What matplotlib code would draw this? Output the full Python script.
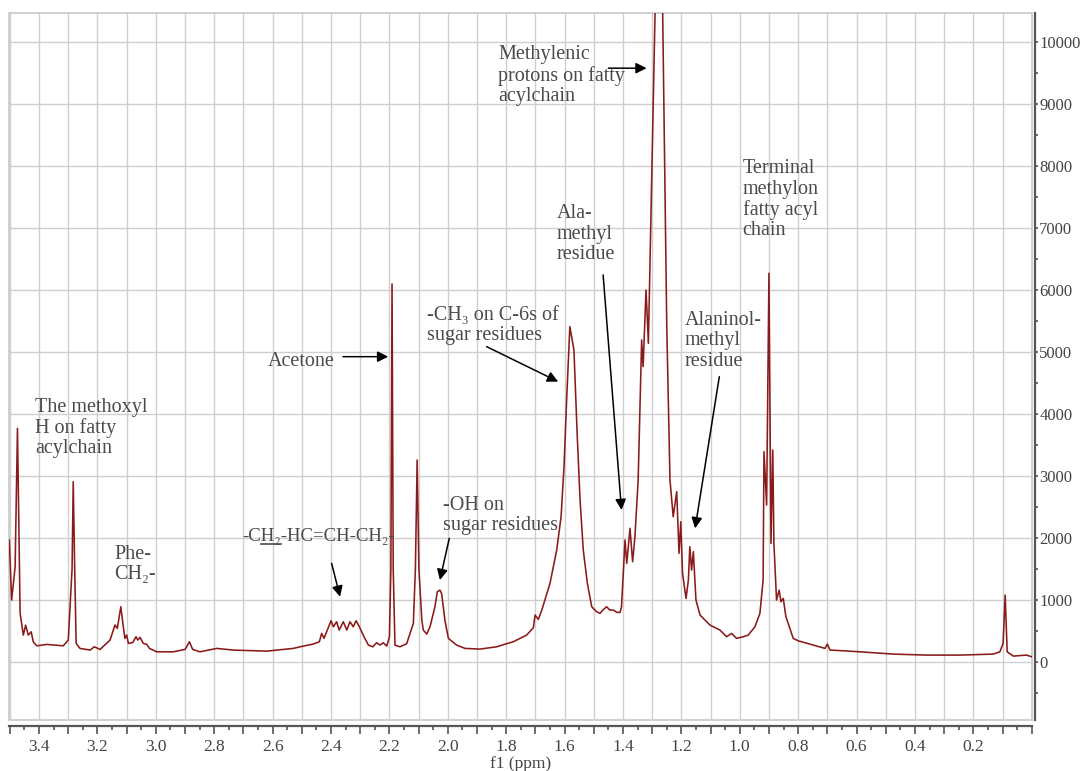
import matplotlib
matplotlib.use("Agg")
import matplotlib.pyplot as plt
from matplotlib.ticker import MultipleLocator, FuncFormatter

# 1H NMR spectrum: chemical shift (ppm) and intensity
shift = [3.502, 3.494, 3.482, 3.474, 3.465, 3.454, 3.446, 3.437, 3.427, 3.420,
         3.408, 3.374, 3.317, 3.300, 3.287, 3.283, 3.278, 3.273, 3.260, 3.225,
         3.211, 3.191, 3.157, 3.140, 3.132, 3.120, 3.113, 3.106, 3.100, 3.094,
         3.079, 3.068, 3.062, 3.054, 3.043, 3.031, 3.022, 2.997, 2.940, 2.900,
         2.885, 2.874, 2.849, 2.791, 2.735, 2.620, 2.529, 2.506, 2.461, 2.440,
         2.432, 2.424, 2.400, 2.392, 2.381, 2.372, 2.358, 2.346, 2.335, 2.324,
         2.314, 2.303, 2.287, 2.272, 2.257, 2.244, 2.232, 2.221, 2.209, 2.200,
         2.195, 2.191, 2.187, 2.181, 2.164, 2.141, 2.118, 2.111, 2.105, 2.099,
         2.089, 2.084, 2.072, 2.061, 2.044, 2.036, 2.027, 2.021, 2.010, 1.998,
         1.970, 1.941, 1.890, 1.833, 1.776, 1.730, 1.707, 1.701, 1.690, 1.678,
         1.650, 1.627, 1.612, 1.602, 1.593, 1.582, 1.568, 1.557, 1.547, 1.536,
         1.522, 1.507, 1.490, 1.479, 1.469, 1.456, 1.445, 1.433, 1.421, 1.410,
         1.405, 1.393, 1.387, 1.376, 1.367, 1.359, 1.348, 1.336, 1.331, 1.321,
         1.313, 1.290, 1.277, 1.264, 1.250, 1.239, 1.228, 1.216, 1.208, 1.202,
         1.196, 1.184, 1.176, 1.171, 1.165, 1.159, 1.150, 1.136, 1.102, 1.068,
         1.045, 1.028, 1.011, 0.988, 0.971, 0.948, 0.931, 0.920, 0.917, 0.908,
         0.900, 0.893, 0.887, 0.883, 0.874, 0.865, 0.859, 0.851, 0.842, 0.834,
         0.817, 0.800, 0.760, 0.708, 0.700, 0.691, 0.646, 0.588, 0.474, 0.360,
         0.246, 0.132, 0.109, 0.098, 0.091, 0.084, 0.063, 0.018, 0.000]
intensity = [1965, 996, 1534, 3768, 786, 431, 590, 431, 484, 323,
             258, 280, 258, 350, 1500, 2906, 1500, 297, 216, 189,
             242, 200, 350, 592, 539, 888, 620, 378, 431, 297,
             312, 404, 350, 394, 297, 280, 216, 161, 161, 200,
             323, 200, 161, 216, 189, 172, 216, 242, 286, 323,
             458, 378, 662, 565, 646, 512, 646, 512, 646, 565,
             662, 565, 404, 270, 242, 307, 270, 307, 253, 404,
             1500, 6098, 1500, 270, 242, 291, 620, 1500, 3256, 1500,
             673, 512, 447, 565, 888, 1130, 1157, 1098, 673, 378,
             270, 216, 205, 242, 323, 431, 550, 754, 684, 835,
             1266, 1803, 2341, 3148, 4225, 5409, 5032, 3687, 2610, 1803,
             1266, 888, 807, 781, 835, 888, 835, 835, 797, 797,
             888, 1965, 1588, 2154, 1615, 2018, 2934, 5194, 4763, 6000,
             5140, 10470, 14000, 10470, 5409, 2934, 2341, 2745, 1750, 2260,
             1427, 1023, 1319, 1857, 1480, 1776, 996, 754, 592, 512,
             404, 458, 378, 404, 431, 565, 781, 1319, 3391, 2530,
             6271, 1911, 3418, 1911, 996, 1157, 969, 1023, 727, 620,
             378, 339, 286, 216, 286, 189, 178, 161, 124, 108,
             108, 124, 161, 297, 1077, 161, 92, 108, 81]

# peak assignments: text, text anchor (ppm, intensity)
labels = ["The methoxyl\nH on fatty\nacylchain",
          "Phe-\nCH₂-",
          "Acetone",
          "-OH on\nsugar residues",
          "-CH₃ on C-6s of\nsugar residues",
          "Methylenic\nprotons on fatty\nacylchain",
          "Ala-\nmethyl\nresidue",
          "Alaninol-\nmethyl\nresidue",
          "Terminal\nmethylon\nfatty acyl\nchain"]
label_ppm = [3.414, 3.142, 2.615, 2.015, 2.071, 1.827, 1.626, 1.188, 0.990]
label_int = [4264, 1891, 4850, 2677, 5749, 9947, 7380, 5662, 8111]
label_va = ["top", "top", "center", "top", "top", "top", "top", "top", "top"]

# arrows: (tail ppm, tail intensity) -> (tip ppm, tip intensity)
arrow_from = [(2.398, 1589), (2.359, 4924), (1.995, 1992), (1.867, 5086),
              (1.450, 9580), (1.468, 6243), (1.070, 4601)]
arrow_to = [(2.369, 1049), (2.204, 4924), (2.027, 1319), (1.622, 4521),
            (1.319, 9580), (1.405, 2449), (1.153, 2154)]

serif = ["Liberation Serif", "DejaVu Serif"]
plt.rcParams["font.family"] = serif
txt_col = "#4a4a4a"
axis_col = "#555555"
fs = 14.5

fig = plt.figure(figsize=(10.81, 7.71), dpi=100)
ax = fig.add_axes([0.0086, 0.0661, 0.9458, 0.917])
ax.plot(shift, intensity, color="#8b1a1a", lw=1.15, zorder=3)
ax.set_xlim(3.502, 0.0)
ax.set_ylim(-940, 10470)

# frame + grid
for s in ["top", "left"]:
    ax.spines[s].set_visible(False)
ax.patch.set_edgecolor("#c8c8c8")
ax.patch.set_linewidth(1.2)
ax.spines["bottom"].set_position(("outward", 4))
ax.spines["right"].set_position(("outward", 2.4))
for s in ["bottom", "right"]:
    ax.spines[s].set_color(axis_col)
    ax.spines[s].set_linewidth(1.6)

ax.xaxis.set_major_locator(MultipleLocator(0.1))
ax.xaxis.set_minor_locator(MultipleLocator(0.05))
ax.yaxis.set_major_locator(MultipleLocator(1000))
ax.yaxis.set_minor_locator(MultipleLocator(500))


def xfmt(v, pos):
    if v < 0.05 or round(v * 10) % 2:
        return ""
    return f"{v:.1f}"


ax.xaxis.set_major_formatter(FuncFormatter(xfmt))
ax.yaxis.set_major_formatter(FuncFormatter(lambda v, p: f"{v:.0f}"))
ax.yaxis.tick_right()
ax.grid(True, which="major", color="#cfcfcf", lw=1.0, zorder=0)
ax.set_axisbelow(True)

ax.tick_params(axis="x", which="major", direction="out", length=5.5, width=1.2,
               color=axis_col, labelsize=12.5, labelcolor="#444444", pad=4)
ax.tick_params(axis="x", which="minor", direction="out", length=3, width=1.2,
               color=axis_col)
ax.tick_params(axis="y", which="major", direction="out", length=2.5, width=1.2,
               color=axis_col, labelsize=12, labelcolor="#444444", pad=0.5)
ax.tick_params(axis="y", which="minor", direction="out", length=2.5, width=1.2,
               color=axis_col)
ax.set_xlabel("f1 (ppm)", fontsize=12.5, color="#444444", labelpad=1)

for t, x, y, va in zip(labels, label_ppm, label_int, label_va):
    ax.text(x, y, t, fontsize=fs, color=txt_col, ha="left", va=va,
            linespacing=1.1, zorder=4)

# the -CH2-HC=CH-CH2- label with the underlined H2
chain = ax.text(2.705, 2018, "-CH₂-HC=CH-CH₂-", fontsize=13.5, color=txt_col,
                ha="left", va="center", zorder=4)

for a, b in zip(arrow_from, arrow_to):
    ax.annotate("", xy=b, xytext=a,
                arrowprops=dict(arrowstyle="-|>", color="black", lw=1.1,
                                mutation_scale=16, shrinkA=0, shrinkB=0),
                zorder=5)

fig.canvas.draw()
r = fig.canvas.get_renderer()
bb = chain.get_window_extent(r)
w1 = ax.text(0, 0, "-C", fontsize=13.5).get_window_extent(r).width
w2 = ax.text(0, 0, "-CH₂", fontsize=13.5).get_window_extent(r).width
for t in ax.texts[-2:]:
    t.remove()
inv = ax.transData.inverted()
(ux0, uy), (ux1, _) = inv.transform([(bb.x0 + w1, bb.y0 + 1), (bb.x0 + w2, bb.y0 + 1)])
ax.plot([ux0, ux1], [uy, uy], color=txt_col, lw=1.2, zorder=4, clip_on=False)

fig.savefig("out.png", dpi=100)
